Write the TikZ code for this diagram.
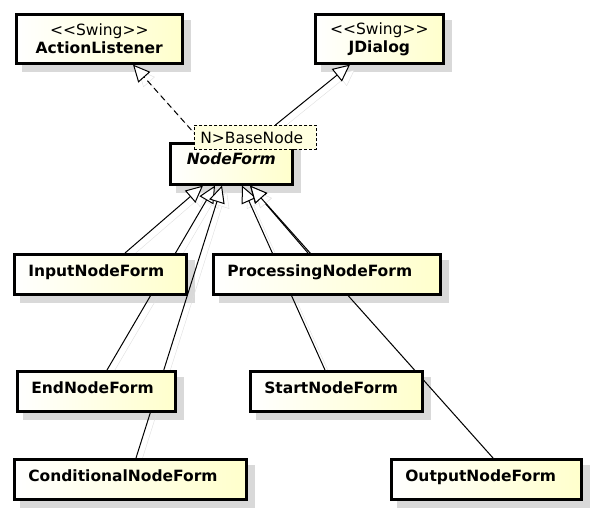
\documentclass[tikz,border=0pt]{standalone}
\usepackage{fontspec}
\setmainfont{DejaVu Sans}
\usetikzlibrary{arrows.meta,positioning}
\definecolor{umlyellow}{RGB}{255,255,204}
\definecolor{umlshadow}{RGB}{217,217,217}
\definecolor{tplyellow}{RGB}{255,255,224}

\pgfdeclarelayer{shadow}
\pgfdeclarelayer{links}
\pgfsetlayers{shadow,links,main}

\tikzset{
  umlfont/.style={font=\fontsize{15.5}{18}\selectfont},
  classbox/.style={draw, line width=2.6pt, left color=white, right color=umlyellow,
    umlfont, anchor=north west, inner ysep=0pt, inner xsep=14pt, minimum height=40pt,
    align=left, text height=10pt, text depth=6pt},
  stereobox/.style={draw, line width=2.6pt, left color=white, right color=umlyellow,
    umlfont, anchor=north west, inner sep=0pt, minimum height=49pt, align=center},
  abstractbox/.style={draw, line width=2.6pt, left color=white, right color=umlyellow,
    umlfont, anchor=north west, inner xsep=0pt, inner ysep=6pt, minimum width=122pt,
    text height=15pt, text depth=14pt, font=\fontsize{15.5}{18}\selectfont\bfseries\itshape},
  templatebox/.style={draw, line width=0.8pt, dash pattern=on 3pt off 2pt, fill=tplyellow,
    umlfont, anchor=north west, inner ysep=0pt, inner xsep=6pt, minimum height=24pt,
    text width=110pt, align=left},
  extends/.style={draw, line width=1pt,
    -{Triangle[length=17pt,width=16pt,fill=white,line width=1pt]},
    preaction={draw=black!13, transform canvas={shift={(5pt,-5pt)}}}},
  realizes/.style={extends, dash pattern=on 6pt off 4pt}
}

\newcommand{\swing}{\textless\kern0pt\textless Swing\textgreater\kern0pt\textgreater}

\begin{document}
\begin{tikzpicture}[x=1pt,y=-1pt]
\useasboundingbox (0,0) rectangle (593,512);

% Swing parents
\node[stereobox, minimum width=166pt] (actionlistener) at (15,13) {\swing\\\textbf{ActionListener}};
\node[stereobox, minimum width=128pt] (jdialog) at (314,13) {\swing\\\textbf{JDialog}};

% Abstract form with template parameter
\node[abstractbox] (nodeform) at (169,142) {NodeForm};
\node[templatebox] (template) at (194,125) {N\textgreater BaseNode};

% Concrete forms
\node[classbox, text width=144pt] (inputform) at (13,253) {\textbf{InputNodeForm}};
\node[classbox, text width=199pt] (processingform) at (212,253) {\textbf{ProcessingNodeForm}};
\node[classbox, text width=130pt] (endform) at (16,370) {\textbf{EndNodeForm}};
\node[classbox, text width=144pt] (startform) at (249,370) {\textbf{StartNodeForm}};
\node[classbox, text width=204pt] (conditionalform) at (13,458) {\textbf{ConditionalNodeForm}};
\node[classbox, text width=162pt] (outputform) at (390,458) {\textbf{OutputNodeForm}};

% Drop shadows
\begin{pgfonlayer}{shadow}
\foreach \n in {actionlistener,jdialog,nodeform,inputform,processingform,endform,startform,conditionalform,outputform} {
    \fill[umlshadow] ([shift={(7pt,-7pt)}]\n.south west) rectangle ([shift={(7pt,-7pt)}]\n.north east);
}
\end{pgfonlayer}

% Generalisations and realisation
\begin{pgfonlayer}{links}
\draw[realizes] ([xshift=4pt]template.west) -- ([xshift=118pt]actionlistener.south west);
\draw[extends] ([xshift=20pt]template.north) -- ([xshift=36pt]jdialog.south west);

\draw[extends] ([xshift=112pt]inputform.north west) -- ([xshift=34pt]nodeform.south west);
\draw[extends] ([xshift=91pt]endform.north west) -- ([xshift=46pt]nodeform.south west);
\draw[extends] ([xshift=123pt]conditionalform.north west) -- ([xshift=53pt]nodeform.south west);
\draw[extends] ([xshift=76pt]startform.north west) -- ([xshift=73pt]nodeform.south west);
\draw[extends] ([xshift=96pt]processingform.north west) -- ([xshift=81pt]nodeform.south west);
\draw[extends] ([xshift=103pt]outputform.north west) -- ([xshift=81pt]nodeform.south west);
\end{pgfonlayer}

\end{tikzpicture}
\end{document}
